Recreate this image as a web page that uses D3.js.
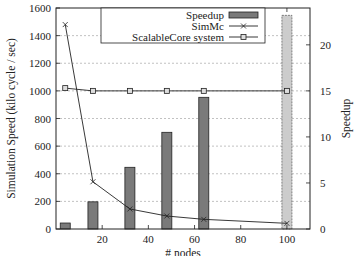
<!DOCTYPE html>
<html>
<head>
<meta charset="utf-8">
<script src="https://cdn.jsdelivr.net/npm/d3@7"></script>
<style>
body { margin: 0; background: #fff; }
svg text { font-family: "Liberation Serif", "DejaVu Serif", serif; fill: #222; }
</style>
</head>
<body>
<div id="chart"></div>
<script>
// node counts along the x axis
var nodes = [4, 16, 32, 48, 64, 100];
// speedup (right axis)
var speedup = [0.65, 2.95, 6.7, 10.5, 14.3, 23.2];
// simulation speed, kilo cycle / sec (left axis)
var simmc = [1480, 342, 145, 94, 70, 41];
var scalable = [1020, 1000, 1000, 1000, 1000, 1000];

var xTicks = [20, 40, 60, 80, 100];
var yTicks = [0, 200, 400, 600, 800, 1000, 1200, 1400, 1600];
var y2Ticks = [0, 5, 10, 15, 20];

var width = 356, height = 256;
var margin = {top: 8, right: 46, bottom: 27, left: 56};

var svg = d3.select("#chart").append("svg")
    .attr("width", width)
    .attr("height", height);

var x = d3.scaleLinear().domain([0, 110]).range([margin.left, width - margin.right]);
var y = d3.scaleLinear().domain([0, 1600]).range([height - margin.bottom, margin.top]);
var y2 = d3.scaleLinear().domain([0, 24]).range([height - margin.bottom, margin.top]);

var x0 = margin.left, x1 = width - margin.right;
var yb = height - margin.bottom, yt = margin.top;

// dashed grid lines
svg.selectAll(".grid")
    .data(yTicks.filter(function(d) { return d > 0 && d < 1600; }))
    .enter().append("line")
    .attr("x1", x0).attr("x2", x1)
    .attr("y1", function(d) { return y(d); })
    .attr("y2", function(d) { return y(d); })
    .style("stroke", "#999")
    .style("stroke-width", 0.6)
    .style("stroke-dasharray", "2,2");

// speedup bars
svg.selectAll(".bar")
    .data(nodes)
    .enter().append("rect")
    .attr("x", function(d) { return x(d) - 5; })
    .attr("width", 10)
    .attr("y", function(d, i) { return y2(speedup[i]); })
    .attr("height", function(d, i) { return yb - y2(speedup[i]); })
    .style("fill", function(d, i) { return i == nodes.length - 1 ? "#ccc" : "#7a7a7a"; })
    .style("stroke", function(d, i) { return i == nodes.length - 1 ? "#666" : "#222"; })
    .style("stroke-width", 0.8)
    .style("stroke-dasharray", function(d, i) { return i == nodes.length - 1 ? "2,1" : null; });

// lines
var line = function(vals) {
    return d3.line()
        .x(function(d) { return x(d); })
        .y(function(d, i) { return y(vals[i]); })(nodes);
};
svg.append("path").attr("d", line(simmc))
    .style("fill", "none").style("stroke", "#222").style("stroke-width", 0.9);
svg.append("path").attr("d", line(scalable))
    .style("fill", "none").style("stroke", "#222").style("stroke-width", 0.9);

function cross(g, cx, cy) {
    g.append("path")
        .attr("d", "M" + (cx - 2.5) + "," + (cy - 2.5) + "L" + (cx + 2.5) + "," + (cy + 2.5) +
              "M" + (cx - 2.5) + "," + (cy + 2.5) + "L" + (cx + 2.5) + "," + (cy - 2.5))
        .style("stroke", "#222").style("stroke-width", 0.8);
}
function square(g, cx, cy) {
    g.append("rect")
        .attr("x", cx - 2.5).attr("y", cy - 2.5)
        .attr("width", 5).attr("height", 5)
        .style("fill", "#ddd").style("stroke", "#222").style("stroke-width", 0.8);
}
nodes.forEach(function(d, i) {
    cross(svg, x(d), y(simmc[i]));
    square(svg, x(d), y(scalable[i]));
});

// frame
svg.append("rect")
    .attr("x", x0).attr("y", yt)
    .attr("width", x1 - x0).attr("height", yb - yt)
    .style("fill", "none").style("stroke", "#222").style("stroke-width", 1);

// inward ticks
var tk = 4;
xTicks.forEach(function(d) {
    svg.append("line").attr("x1", x(d)).attr("x2", x(d)).attr("y1", yb).attr("y2", yb - tk)
        .style("stroke", "#222").style("stroke-width", 0.8);
    svg.append("line").attr("x1", x(d)).attr("x2", x(d)).attr("y1", yt).attr("y2", yt + tk)
        .style("stroke", "#222").style("stroke-width", 0.8);
});
yTicks.forEach(function(d) {
    svg.append("line").attr("x1", x0).attr("x2", x0 + tk).attr("y1", y(d)).attr("y2", y(d))
        .style("stroke", "#222").style("stroke-width", 0.8);
});
y2Ticks.forEach(function(d) {
    svg.append("line").attr("x1", x1).attr("x2", x1 - tk).attr("y1", y2(d)).attr("y2", y2(d))
        .style("stroke", "#222").style("stroke-width", 0.8);
});

// tick labels
svg.selectAll(".xl").data(xTicks).enter().append("text")
    .attr("x", function(d) { return x(d); })
    .attr("y", yb + 14)
    .attr("text-anchor", "middle")
    .style("font-size", "11px")
    .text(function(d) { return d; });
svg.selectAll(".yl").data(yTicks).enter().append("text")
    .attr("x", x0 - 5)
    .attr("y", function(d) { return y(d) + 4; })
    .attr("text-anchor", "end")
    .style("font-size", "11px")
    .text(function(d) { return d; });
svg.selectAll(".y2l").data(y2Ticks).enter().append("text")
    .attr("x", x1 + 10)
    .attr("y", function(d) { return y2(d) + 4; })
    .attr("text-anchor", "start")
    .style("font-size", "11px")
    .text(function(d) { return d; });

// axis titles
svg.append("text")
    .attr("transform", "translate(15," + ((yt + yb) / 2) + ") rotate(-90)")
    .attr("text-anchor", "middle")
    .style("font-size", "11.5px")
    .text("Simulation Speed (kilo cycle / sec)");
svg.append("text")
    .attr("transform", "translate(350," + ((yt + yb) / 2) + ") rotate(-90)")
    .attr("text-anchor", "middle")
    .style("font-size", "11.5px")
    .text("Speedup");
svg.append("text")
    .attr("x", (x0 + x1) / 2)
    .attr("y", 257)
    .attr("text-anchor", "middle")
    .style("font-size", "11.5px")
    .text("# nodes");

// legend
var lg = svg.append("g");
lg.append("rect")
    .attr("x", 101).attr("y", yt)
    .attr("width", 164).attr("height", 35)
    .style("fill", "#fff").style("stroke", "#222").style("stroke-width", 0.8);
var legendNames = ["Speedup", "SimMc", "ScalableCore system"];
legendNames.forEach(function(name, i) {
    var ly = yt + 7 + i * 11;
    lg.append("text")
        .attr("x", 224).attr("y", ly + 3.5)
        .attr("text-anchor", "end")
        .style("font-size", "11px")
        .text(name);
    if (i == 0) {
        lg.append("rect").attr("x", 229).attr("y", ly - 3).attr("width", 29).attr("height", 6)
            .style("fill", "#7a7a7a").style("stroke", "#222").style("stroke-width", 0.8);
    } else {
        lg.append("line").attr("x1", 229).attr("x2", 258).attr("y1", ly).attr("y2", ly)
            .style("stroke", "#222").style("stroke-width", 0.9);
        if (i == 1) cross(lg, 243.5, ly); else square(lg, 243.5, ly);
    }
});
</script>
</body>
</html>
